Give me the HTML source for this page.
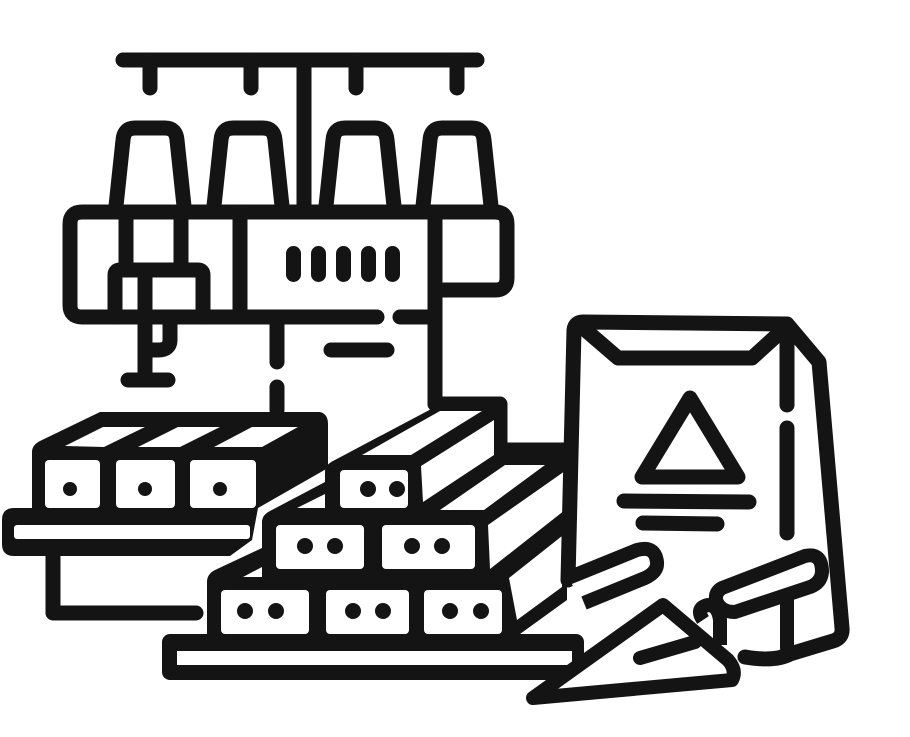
<!DOCTYPE html>
<html><head><meta charset="utf-8"><style>html,body{margin:0;padding:0;background:#fff}svg{display:block}</style></head>
<body>
<svg width="910" height="737" viewBox="0 0 910 737" xmlns="http://www.w3.org/2000/svg">
<g fill="none" stroke="#141414" stroke-width="15" stroke-linecap="round" stroke-linejoin="round">
<!-- top bar -->
<line x1="123" y1="60" x2="477" y2="60"/>
<line x1="150" y1="60" x2="150" y2="88"/>
<line x1="251" y1="60" x2="251" y2="88"/>
<line x1="356" y1="60" x2="356" y2="88"/>
<line x1="457" y1="60" x2="457" y2="88"/>
<line x1="304" y1="60" x2="304" y2="206" stroke-linecap="butt"/>
<!-- cups -->
<path d="M116,206 L123,140 Q124,128 135,128 L165,128 Q176,128 177,140 L184,206"/>
<path d="M214,206 L221,140 Q222,128 233,128 L263,128 Q274,128 275,140 L282,206"/>
<path d="M326,206 L333,140 Q334,128 345,128 L375,128 Q386,128 387,140 L394,206"/>
<path d="M423,206 L430,140 Q431,128 442,128 L472,128 Q483,128 484,140 L491,206"/>
<!-- main box -->
<path d="M377,317 L82,317 Q70,317 70,305 L70,224 Q70,212 82,212 L495,212 Q507,212 507,224 L507,278 Q507,290 495,290 L435,290"/>
<path d="M400,317 L435,317"/>
<line x1="240" y1="212" x2="240" y2="317"/>
<line x1="435" y1="212" x2="435" y2="404"/>
<line x1="126" y1="212" x2="126" y2="270"/>
<line x1="181" y1="212" x2="181" y2="270"/>
<path d="M115,317 L115,275 Q115,270 120,270 L198,270 Q203,270 203,275 L203,317"/>
<line x1="145" y1="270" x2="145" y2="380"/>
<path d="M170,322 L170,340 Q170,350 158,350 L148,350"/>
<line x1="128" y1="380" x2="168" y2="380"/>
<line x1="277" y1="322" x2="277" y2="362"/>
<line x1="277" y1="387" x2="277" y2="410"/>
<line x1="331" y1="350" x2="387" y2="350"/>
<path d="M435,404 L500,404 L500,450 L567,450"/>
<!-- pills -->
<g stroke-width="0" fill="#141414">
<rect x="286" y="246" width="15" height="36" rx="7.5"/>
<rect x="311" y="246" width="15" height="36" rx="7.5"/>
<rect x="336" y="246" width="15" height="36" rx="7.5"/>
<rect x="361" y="246" width="15" height="36" rx="7.5"/>
<rect x="385" y="246" width="15" height="36" rx="7.5"/>
</g>
<!-- left conveyor leg -->
<path d="M53,556 L53,613 L196,613"/>
</g>

<!-- left bricks silhouette -->
<g fill="#141414">
<path d="M32,452 Q32,445 40,441 L100,412 L320,412 Q328,414 328,424 L328,468 L258,508 L32,508 Z"/>
<path d="M2,520 Q2,508 14,508 L258,508 L252,540 L230,556 L14,556 Q2,556 2,544 Z"/>
<!-- pyramid silhouette -->
<path d="M207,640 L207,582 Q207,574 215,570 L262,548 L262,522 Q262,515 270,511 L325,482 L325,472 Q325,465 333,461 L435,407 L490,403 Q505,403 505,415 L505,450 L567,450 L567,600 L520,634 Z"/>
<!-- pallet -->
<rect x="162" y="634" width="422" height="46" rx="8"/>
</g>
<g fill="#fff">
<rect x="45" y="460" width="55" height="48" rx="4"/>
<rect x="116" y="460" width="59" height="48" rx="4"/>
<rect x="190" y="460" width="66" height="48" rx="4"/>
<path d="M65,446 L103,427 L145,427 L104,447 Z"/>
<path d="M138,447 L178,427 L220,427 L180,447 Z"/>
<path d="M214,447 L252,427 L298,427 L262,447 Z"/>
<rect x="14" y="525" width="236" height="14" rx="3"/>
<rect x="177" y="651" width="395" height="14"/>
<rect x="221" y="590" width="88" height="44" rx="4"/>
<rect x="326" y="590" width="83" height="44" rx="4"/>
<rect x="424" y="590" width="78" height="44" rx="4"/>
<rect x="276" y="525" width="88" height="44" rx="4"/>
<rect x="382" y="525" width="93" height="44" rx="4"/>
<rect x="340" y="470" width="68" height="38" rx="4"/>
<path d="M362,455 L440,411 L482,411 L411,455 Z"/>
<path d="M421,466 L494,420 L494,455 L423,502 Z"/>
<path d="M440,510 L505,465 L545,465 L484,510 Z"/>
<path d="M488,525 L565,471 L565,510 L490,569 Z"/>
<path d="M509,578 L562,536 L562,587 L517,620 Z"/>
<path d="M297,508 L325,494 L325,508 Z"/>
<path d="M243,577 L262,567 L262,577 Z"/>
</g>
<g fill="#141414">
<circle cx="70" cy="489" r="7"/><circle cx="145" cy="489" r="7"/><circle cx="220" cy="489" r="7"/>
<circle cx="245" cy="611" r="8"/><circle cx="276" cy="611" r="8"/>
<circle cx="353" cy="611" r="8"/><circle cx="383" cy="611" r="8"/>
<circle cx="450" cy="611" r="8"/><circle cx="481" cy="611" r="8"/>
<circle cx="305" cy="546" r="8"/><circle cx="335" cy="546" r="8"/>
<circle cx="412" cy="546" r="8"/><circle cx="442" cy="546" r="8"/>
<circle cx="368" cy="489" r="8"/><circle cx="397" cy="489" r="8"/>
</g>

<!-- bag -->
<g fill="none" stroke="#141414" stroke-width="15" stroke-linecap="round" stroke-linejoin="round">
<path d="M568,580 L574,330 Q575,322 583,322 L787,324 L819,362 L842,628 Q843,638 833,641 L790,654 Q775,662 745,657"/>
<path d="M582,327 L618,358 L752,358 L786,327"/>
<line x1="787" y1="342" x2="787" y2="405"/>
<line x1="787" y1="428" x2="787" y2="533"/>
<path d="M690,398 L642,477 L738,477 Z"/>
<line x1="624" y1="501" x2="749" y2="502"/>
<line x1="643" y1="523" x2="717" y2="524"/>
</g>
<!-- trowel 1 handle -->
<g fill="#fff" stroke="#141414" stroke-width="14" stroke-linejoin="round">
<path d="M568,578 L637,550 Q655,545 657,562 Q658,572 645,578 L584,603"/>
<!-- trowel 2 -->
<path d="M663,605 L533,698 L732,680 Q737,670 728,660 Z"/>
<path d="M703,620 Q695,608 708,605 Q718,605 720,620 L720,645" fill="none"/>
<path d="M722,588 L805,556 Q822,552 822,572 Q821,583 810,587 L735,612 Q720,612 716,600 Q715,592 722,588 Z"/>
</g>
<g fill="none" stroke="#141414" stroke-width="14" stroke-linecap="round">
<line x1="640" y1="658" x2="695" y2="642"/>
<line x1="787" y1="600" x2="787" y2="648"/>
</g>
</svg>
</body></html>
